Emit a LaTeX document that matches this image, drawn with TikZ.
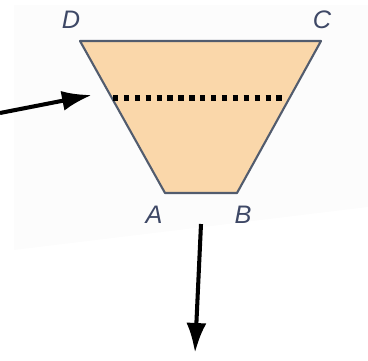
\documentclass[tikz,border=0pt]{standalone}
\usepackage{fontspec}
\usepackage{xcolor}
\usepackage{tikz}
\usetikzlibrary{arrows.meta,positioning,calc}
\newfontfamily\lblfont{Liberation Sans}
\definecolor{peach}{HTML}{FAD7AA}
\definecolor{rim}{HTML}{525C6E}
\definecolor{lbl}{HTML}{3E4866}

\begin{document}
\begin{tikzpicture}[x=0.02cm,y=-0.02cm,>=Latex,
  vlbl/.style={font=\lblfont\itshape\Large,text=lbl,inner sep=0pt},
  pointer/.style={->,line width=2.3pt,arrows={-Latex[length=6mm,width=4mm]}}]
\useasboundingbox (0,0) rectangle (368,361);
\fill[gray!2] (14,5) -- (368,5) -- (368,207) -- (14,250) -- cycle;
\coordinate (A) at (165,193);
\coordinate (B) at (237,193);
\coordinate (C) at (321,41);
\coordinate (D) at (80,41);
\filldraw[fill=peach,draw=rim,line width=1.2pt,line join=round] (A) -- (B) -- (C) -- (D) -- cycle;
\node[vlbl] (lA) at (154,215) {A};
\node[vlbl] (lB) at (243,215) {B};
\node[vlbl] (lC) at (322,20) {C};
\node[vlbl] (lD) at (71,20) {D};
\coordinate (mL) at (113,98);
\coordinate (mR) at (284,98);
\draw[line width=3pt,dash pattern=on 3pt off 3.2pt] (mL) -- (mR);
\coordinate (inL) at (0,113);
\coordinate (tipL) at (92,95);
\draw[pointer] (inL) -- (tipL);
\coordinate (outT) at (201,224);
\coordinate (outB) at (195,353);
\draw[pointer] (outT) -- (outB);
\end{tikzpicture}
\end{document}
